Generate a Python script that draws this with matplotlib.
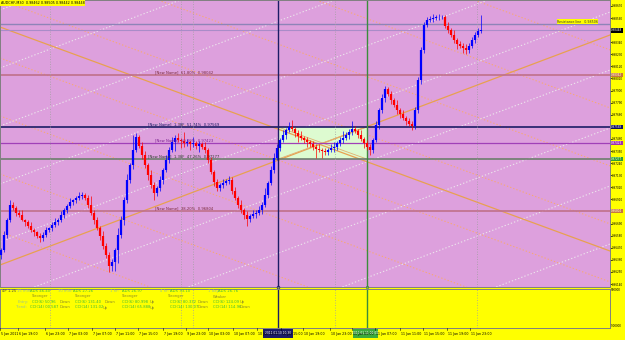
import matplotlib.pyplot as plt
from matplotlib.patches import Rectangle

# --- Data ---
TITLE = "AUDCHF,M30  0.98462 0.98505 0.98442 0.98448"

first_open = 0.9640
closes = [
    0.9645, 0.9659, 0.9672, 0.9686,
    0.9683, 0.9679, 0.9677, 0.9672, 0.9670, 0.9667, 0.9663, 0.9661, 0.9658, 0.9656,
    0.9659, 0.9663, 0.9665, 0.9668, 0.9670, 0.9672,
    0.9677, 0.9681, 0.9685, 0.9689, 0.9690, 0.9692, 0.9694, 0.9695,
    0.9692, 0.9686, 0.9679, 0.9672, 0.9665, 0.9658, 0.9649, 0.9640, 0.9630,
    0.9634, 0.9645, 0.9659, 0.9672, 0.9690, 0.9709, 0.9722, 0.9736, 0.9748,
    0.9740, 0.9731, 0.9722, 0.9713, 0.9704, 0.9697,
    0.9701, 0.9709, 0.9718, 0.9727, 0.9736, 0.9743, 0.9747,
    0.9745, 0.9744, 0.9742, 0.9743, 0.9741, 0.9742, 0.9740, 0.9741, 0.9739, 0.9736,
    0.9727, 0.9716, 0.9707, 0.9701,
    0.9704, 0.9706, 0.9708, 0.9709,
    0.9699, 0.9692, 0.9686, 0.9681, 0.9677, 0.9673,
    0.9676, 0.9678, 0.9679, 0.9681, 0.9686, 0.9695, 0.9706, 0.9718, 0.9729,
    0.9738, 0.9745, 0.9750, 0.9754, 0.9757,
    0.9755, 0.9751, 0.9749, 0.9747, 0.9745, 0.9743, 0.9741, 0.9739, 0.9737, 0.9736, 0.9735, 0.9734,
    0.9736, 0.9738, 0.9739, 0.9742, 0.9745, 0.9747, 0.9750, 0.9752, 0.9755,
    0.9753, 0.9750, 0.9746, 0.9742, 0.9739, 0.9736,
    0.9745, 0.9759, 0.9772, 0.9783, 0.9791,
    0.9787, 0.9781, 0.9777, 0.9772, 0.9769, 0.9765, 0.9762, 0.9760, 0.9758,
    0.9772, 0.9800, 0.9827, 0.9850, 0.9854,
    0.9855, 0.9856, 0.9857, 0.9857, 0.9857,
    0.9849, 0.9845, 0.9841, 0.9836, 0.9832, 0.9831, 0.9829, 0.9827,
    0.9831, 0.9836, 0.9841, 0.9844, 0.98448,
]
# wick lengths in pips (0.0001)
wick_up = [
    2, 3, 2, 4,
    3, 2, 2, 4, 1, 2, 3, 2, 1, 2,
    2, 3, 1, 2, 4, 2,
    3, 2, 2, 3, 1, 2, 4, 3,
    2, 3, 8, 2, 3, 2, 4, 2, 3,
    3, 2, 6, 4, 3, 5, 2, 14, 3,
    2, 3, 4, 2, 5, 3,
    2, 3, 2, 4, 3, 5, 3,
    4, 2, 8, 3, 2, 6, 2, 3, 2, 4,
    2, 3, 2, 3,
    2, 4, 2, 3,
    2, 3, 2, 4, 2, 3,
    2, 3, 2, 4, 3, 6, 2, 3, 4,
    3, 2, 4, 2, 4,
    6, 2, 3, 4, 2, 3, 2, 3, 2, 4, 2, 3,
    2, 3, 4, 2, 3, 6, 2, 3, 7,
    3, 2, 4, 2, 3, 2,
    2, 3, 2, 4, 3,
    2, 3, 2, 4, 2, 3, 2, 3, 2,
    3, 2, 3, 2, 3,
    3, 4, 2, 3, 2,
    2, 3, 2, 4, 2, 3, 2, 3,
    2, 3, 2, 3, 14,
]
wick_dn = [
    3, 2, 3, 2,
    2, 3, 2, 1, 3, 2, 2, 3, 2, 4,
    3, 2, 2, 3, 2, 2,
    2, 3, 2, 2, 3, 2, 2, 3,
    2, 3, 2, 3, 2, 4, 3, 2, 5,
    4, 8, 12, 3, 4, 2, 3, 3, 2,
    2, 3, 2, 4, 3, 7,
    3, 2, 4, 2, 3, 2, 8,
    2, 6, 3, 2, 5, 2, 3, 6, 2, 3,
    3, 2, 4, 2,
    2, 3, 2, 3,
    3, 2, 3, 2, 4, 6,
    3, 2, 4, 2, 3, 2, 3, 2, 3,
    2, 3, 2, 4, 2,
    2, 3, 6, 2, 3, 4, 2, 3, 8, 2, 6, 3,
    3, 2, 4, 3, 2, 3, 2, 4, 2,
    2, 3, 2, 4, 3, 5,
    3, 2, 4, 2, 3,
    2, 3, 2, 3, 4, 2, 3, 2, 4,
    3, 2, 4, 3, 2,
    2, 3, 2, 3, 2,
    2, 3, 2, 3, 4, 2, 5, 4,
    3, 2, 3, 2, 2,
]

price_ticks = [0.96140, 0.96250, 0.96360, 0.96470, 0.96580, 0.96690, 0.96800,
               0.96910, 0.97020, 0.97130, 0.97240, 0.97350, 0.97460, 0.97570,
               0.97680, 0.97790, 0.97900, 0.98010, 0.98120, 0.98230, 0.98340,
               0.98450, 0.98560, 0.98670]

# horizontal objects: price, colour, width
level_prices = [0.98506, 0.98448, 0.98042, 0.97569, 0.97423, 0.97277, 0.96804]
level_colors = ["#8E84B8", "#A98CC8", "#C0708A", "#1C1C66", "#A040B8", "#6E7E6E", "#C0708A"]
level_widths = [1.0, 0.8, 1.2, 1.2, 0.9, 1.2, 1.2]

fibo_texts = ["[New Name]  61.80%  0.98042", "[New Name]  1.38F  51.74%  0.97569",
              "[New Name]  50.00%  0.97423", "[New Name]  1.38F  47.26%  0.97277",
              "[New Name]  38.20%  0.96804"]
fibo_prices = [0.98042, 0.97569, 0.97423, 0.97277, 0.96804]
fibo_xpix = [155, 148, 155, 148, 155]
fibo_colors = ["#7A2A3A", "#1C1C66", "#7A2090", "#2F3F2F", "#7A2A3A"]

axis_marks = [0.98448, 0.98042, 0.97569, 0.97423, 0.97277, 0.96804]
axis_mark_bg = ["#000000", "#C8783C", "#101060", "#A030B0", "#30A030", "#C8783C"]

# vertical separators / lines, in bars
sep_bars = [16.7, 60.3, 64.3, 111.7, 159.0]
vline_blue = 92.7
vline_green = 122.3
box_top, box_bot = 0.97569, 0.97277

time_labels = ["5 Jan 2011", "6 Jan 19:00", "6 Jan 23:00", "7 Jan 03:00", "7 Jan 07:00",
               "7 Jan 11:00", "7 Jan 15:00", "7 Jan 19:00", "9 Jan 23:00", "10 Jan 03:00",
               "10 Jan 07:00", "10 Jan 11:00", "10 Jan 15:00", "10 Jan 19:00", "10 Jan 23:00",
               "11 Jan 03:00", "11 Jan 07:00", "11 Jan 11:00", "11 Jan 15:00", "11 Jan 19:00",
               "11 Jan 23:00"]
time_xpix = [0, 18, 45, 68, 92, 115, 138, 163, 186, 208, 233, 257, 281, 303, 330,
             352, 375, 400, 423, 447, 470]

# indicator panel texts (x px, row, text, style)
ind_texts = [
    (2, 0, "4P 1.25", "d"),
    (17, 0, "15 min:", "l"), (30, 0, "ADX 46.40", "v"),
    (58, 0, "30 min:", "l"), (73, 0, "ADX 27.26", "v"),
    (110, 0, "1 hr:", "l"), (122, 0, "ADX 26.97", "v"),
    (160, 0, "4 hr:", "l"), (170, 0, "ADX 33.10", "v"),
    (208, 0, "1 day:", "l"), (218, 0, "ADX 26.76", "v"),
    (32, 1, "Stronger", "w"), (75, 1, "Stronger", "w"), (122, 1, "Stronger", "w"),
    (168, 1, "Stronger", "w"), (213, 1, "Weaker", "w"),
    (18, 2, "Entry:", "l"), (32, 2, "CCI(6) 50.96", "v"), (60, 2, "Down", "w"),
    (75, 2, "CCI(6) 131.40", "v"), (105, 2, "Down", "w"),
    (122, 2, "CCI(6) 80.998", "v"), (150, 2, "Up", "w"),
    (170, 2, "CCI(6) 80.332", "v"), (198, 2, "Down", "w"),
    (213, 2, "CCI(6) 124.09", "v"), (240, 2, "Up", "w"),
    (16, 3, "Trend:", "l"), (30, 3, "CCI(14) 00.587", "v"), (60, 3, "Down", "w"),
    (75, 3, "CCI(14) 131.02", "v"), (103, 3, "Up", "w"),
    (122, 3, "CCI(14) 65.888", "v"), (150, 3, "Up", "w"),
    (170, 3, "CCI(14) 130.07", "v"), (198, 3, "Down", "w"),
    (213, 3, "CCI(14) 114.96", "v"), (240, 3, "Down", "w"),
]
ind_colors = {"d": "#444444", "l": "#9CC48C", "v": "#3CBC3C", "w": "#8C8C28"}

# --- Figure ---
W, H = 625, 340
YEL = "#FFFF00"
fig = plt.figure(figsize=(6.25, 3.4), dpi=100, facecolor=YEL)


def fbox(x0, y0, x1, y1):
    return [x0 / W, 1 - y1 / H, (x1 - x0) / W, (y1 - y0) / H]


ax = fig.add_axes(fbox(0, 0, 610, 287))
ax2 = fig.add_axes(fbox(0, 289, 610, 328))
XMAX = 610 / 3
ax.set_xlim(0, XMAX)
ax.set_ylim(0.96113, 0.98724)
ax.set_facecolor("#DDA0DD")
ax2.set_xlim(0, XMAX)
ax2.set_ylim(0, 1)
ax2.set_facecolor(YEL)
for a in (ax, ax2):
    for s in a.spines.values():
        s.set_color("#808080")
        s.set_linewidth(0.7)
    a.set_xticks([])
ax2.set_yticks([])

ax.yaxis.tick_right()
ax.set_yticks(price_ticks)
ax.set_yticklabels([f"{v:.5f}" for v in price_ticks], fontsize=2.0)
ax.tick_params(axis="y", length=1.2, width=0.5, pad=0.5, colors="black")


# pixel-space helper for drawn objects (grid of Gann lines)
def px(x, y):
    return x / 610, 1 - y / 287


# dotted diagonal lattice
for k in range(-5, 6):
    c = 58 + 58 * k
    (x0, y0), (x1, y1) = px(0, c), px(610, c + 0.367 * 610)
    ax.plot([x0, x1], [y0, y1], transform=ax.transAxes, color="#F6A878",
            lw=0.8, ls=(0, (1.2, 1.8)), zorder=1)
for k in range(0, 10):
    c = 10 + 58 * k
    (x0, y0), (x1, y1) = px(0, c), px(610, c - 0.377 * 610)
    ax.plot([x0, x1], [y0, y1], transform=ax.transAxes, color="#ECE4EC",
            lw=0.8, ls=(0, (1.2, 1.8)), zorder=1)
# solid orange trend lines
for (a0, b0, a1, b1) in [(0, 27, 610, 251), (0, 265, 610, 35)]:
    (x0, y0), (x1, y1) = px(a0, b0), px(a1, b1)
    ax.plot([x0, x1], [y0, y1], transform=ax.transAxes, color="#E8A050",
            lw=0.9, zorder=1.5)

# rectangle
ax.add_patch(Rectangle((vline_blue, box_bot), vline_green - vline_blue, box_top - box_bot,
                       facecolor="#DDFBD0", edgecolor="none", zorder=1.2))
ax.plot([vline_blue, vline_green], [box_top, box_bot], color="#E0B070", lw=0.6, zorder=1.6)
ax.plot([vline_blue, vline_green], [box_bot, box_top], color="#E0B070", lw=0.6, zorder=1.6)

# horizontal levels
for p, c, w in zip(level_prices, level_colors, level_widths):
    ax.axhline(p, color=c, lw=w, zorder=2)

# vertical lines
for a in (ax, ax2):
    for b in sep_bars:
        a.axvline(b, color="#A0A0A0", lw=0.6, ls=(0, (1, 2)), zorder=2)
    a.axvline(vline_blue, color="#1C1C66", lw=1.0, zorder=2.5)
    a.axvline(vline_green, color="#3C8C3C", lw=1.0, zorder=2.5)

# candles
opens = [first_open] + closes[:-1]
for i, (o, c) in enumerate(zip(opens, closes)):
    x = i + 0.5
    col = "#0000FF" if c >= o else "#FF0000"
    lo, hi = min(o, c), max(o, c)
    ax.vlines(x, lo - wick_dn[i] * 0.0001, hi + wick_up[i] * 0.0001,
              color=col, lw=0.5, zorder=3)
    if hi - lo < 0.00005:
        lo, hi = lo - 0.00003, hi + 0.00003
    ax.vlines(x, lo, hi, color=col, lw=1.6, zorder=3.2)

# fibo labels
for t, p, xp, c in zip(fibo_texts, fibo_prices, fibo_xpix, fibo_colors):
    ax.text(xp / 3, p + 0.00004, t, fontsize=2.7, color=c, va="bottom", ha="left", zorder=4)

# right axis marks
for p, bg in zip(axis_marks, axis_mark_bg):
    ax.text(1.002, p, f"{p:.5f}", transform=ax.get_yaxis_transform(), fontsize=2.0,
            color="white", va="center", ha="left", clip_on=False, zorder=6,
            bbox=dict(boxstyle="square,pad=0.15", fc=bg, ec="none"))

# yellow label on resistance line
ax.text(598 / 3, 0.98506 + 0.00003, "Resistance line   0.98506", fontsize=2.3, color="#333333",
        ha="right", va="bottom", zorder=5,
        bbox=dict(boxstyle="square,pad=0.15", fc=YEL, ec="none"))

# title
fig.text(1 / W, 1 - 3 / H, TITLE, fontsize=2.4, color="black", ha="left", va="center",
         bbox=dict(boxstyle="square,pad=0.2", fc=YEL, ec="none"))

# markers where the vertical lines hit the panel bottom
ax.plot([vline_blue], [0.96113], marker="o", ms=2, mfc="none", mec="#1C1C66", mew=0.5,
        clip_on=False, zorder=5)
ax.plot([vline_green], [0.96113], marker="s", ms=2, mfc="none", mec="#3C8C3C", mew=0.5,
        clip_on=False, zorder=5)

# indicator panel
row_y = [291, 296.5, 302, 307.5]
for xp, r, t, st in ind_texts:
    fig.text(xp / W, 1 - row_y[r] / H, t, fontsize=2.7, color=ind_colors[st],
             ha="left", va="center")
fig.text(611 / W, 1 - 290 / H, "900000", fontsize=2.0, color="black", ha="left", va="center")
fig.text(611 / W, 1 - 326 / H, "-900000", fontsize=2.0, color="black", ha="left", va="center")

# time axis
for xp, t in zip(time_xpix, time_labels):
    fig.text((xp + 1) / W, 1 - 334 / H, t, fontsize=2.3, color="black", ha="left", va="center")
    fig.add_artist(plt.Line2D([xp / W, xp / W], [1 - 328 / H, 1 - 330 / H],
                              color="black", lw=0.4))
for (x0, x1, bg, t) in [(263, 293, "#1C1C66", "2011.01.10 10:30"),
                        (353, 378, "#3CAA3C", "2011.01.11 01:00")]:
    fig.add_artist(Rectangle((x0 / W, 1 - 338 / H), (x1 - x0) / W, 9 / H,
                             transform=fig.transFigure, fc=bg, ec="none"))
    fig.text((x0 + x1) / 2 / W, 1 - 333.5 / H, t, fontsize=2.1, color="white",
             ha="center", va="center")

fig.savefig("out.png", dpi=100, facecolor=YEL)
